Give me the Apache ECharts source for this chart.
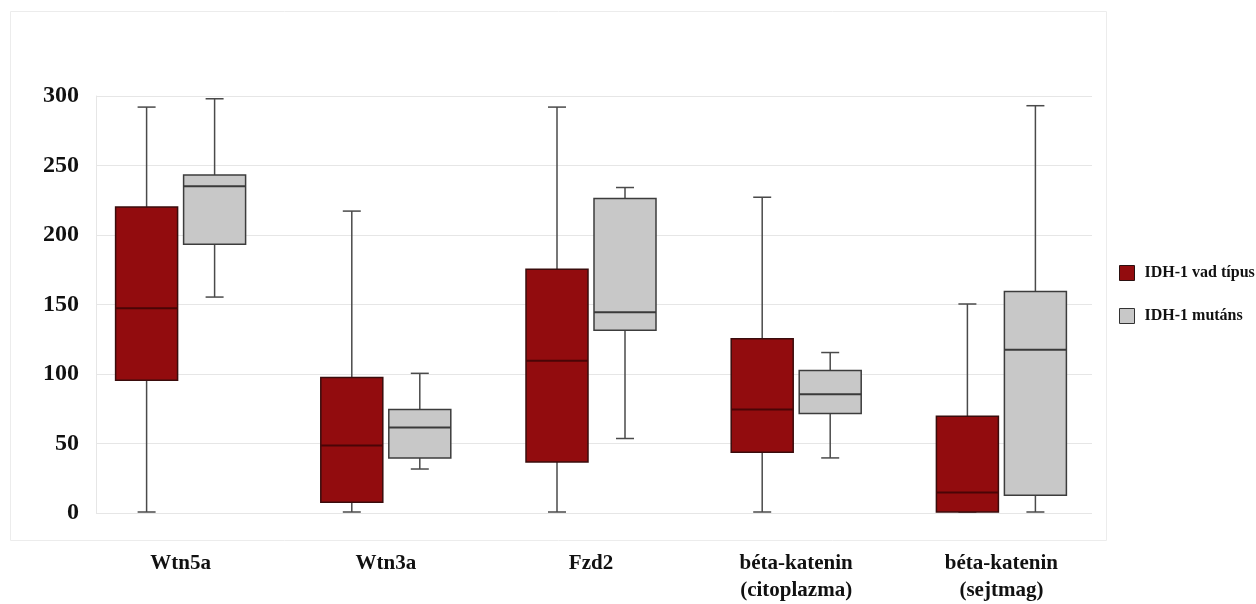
<!DOCTYPE html>
<html>
<head>
<meta charset="utf-8">
<script src="https://cdn.jsdelivr.net/npm/echarts@6/dist/echarts.min.js"></script>
<style>
  html, body { margin: 0; padding: 0; background: #ffffff; }
  #chart { width: 1256px; height: 604px; }
</style>
</head>
<body>
<div id="chart"></div>
<script>
// Marker groups along the x axis
const categories = ['Wtn5a', 'Wtn3a', 'Fzd2', 'béta-katenin\n(citoplazma)', 'béta-katenin\n(sejtmag)'];

// Box statistics per group: [min, Q1, median, Q3, max]
const wildType = [
  [0, 95, 147, 220, 292],
  [0, 7, 48, 97, 217],
  [0, 36, 109, 175, 292],
  [0, 43, 74, 125, 227],
  [0, 0, 14, 69, 150]
];
const mutant = [
  [155, 193, 235, 243, 298],
  [31, 39, 61, 74, 100],
  [53, 131, 144, 226, 234],
  [39, 71, 85, 102, 115],
  [0, 12, 117, 159, 293]
];

const seriesNames = ['IDH-1 vad típus', 'IDH-1 mutáns'];
const yTicks = { min: 0, max: 300, interval: 50 };

const FONT = '"Liberation Serif", "Times New Roman", serif';
const BOX_W = 62;
const CAP_HALF = 9;

function toRows(stats) {
  return stats.map((s, i) => [i].concat(s));
}

// Draws one box: whiskers with short caps, the IQR box and the median line
function boxRenderer(offset, fill, stroke, medianColor) {
  return function (params, api) {
    const idx = api.value(0);
    const cx = api.coord([idx, 0])[0] + offset;
    const y = (k) => api.coord([idx, api.value(k)])[1];
    const yMin = y(1), yQ1 = y(2), yMed = y(3), yQ3 = y(4), yMax = y(5);
    const half = BOX_W / 2;
    const whisker = { stroke: '#4a4a4a', lineWidth: 1.5 };
    return {
      type: 'group',
      children: [
        { type: 'line', shape: { x1: cx, y1: yQ3, x2: cx, y2: yMax }, style: whisker },
        { type: 'line', shape: { x1: cx - CAP_HALF, y1: yMax, x2: cx + CAP_HALF, y2: yMax }, style: whisker },
        { type: 'line', shape: { x1: cx, y1: yQ1, x2: cx, y2: yMin }, style: whisker },
        { type: 'line', shape: { x1: cx - CAP_HALF, y1: yMin, x2: cx + CAP_HALF, y2: yMin }, style: whisker },
        {
          type: 'rect',
          shape: { x: cx - half, y: yQ3, width: BOX_W, height: yQ1 - yQ3 },
          style: { fill: fill, stroke: stroke, lineWidth: 1.5 }
        },
        {
          type: 'line',
          shape: { x1: cx - half, y1: yMed, x2: cx + half, y2: yMed },
          style: { stroke: medianColor, lineWidth: 2 }
        }
      ]
    };
  };
}

const RED = '#920c0e';
const GREY = '#c8c8c8';

const chart = echarts.init(document.getElementById('chart'), null, { renderer: 'canvas' });

chart.setOption({
  animation: false,
  backgroundColor: '#ffffff',
  graphic: [{
    type: 'rect',
    z: -10,
    shape: { x: 10.5, y: 11.5, width: 1096, height: 529 },
    style: { fill: 'none', stroke: '#ececec', lineWidth: 1 }
  }],
  legend: {
    orient: 'vertical',
    left: 1119,
    top: 265,
    padding: 0,
    itemWidth: 15,
    itemHeight: 15,
    itemGap: 27,
    icon: 'rect',
    data: [
      { name: seriesNames[0], itemStyle: { color: RED, borderColor: '#2a1010', borderWidth: 1 } },
      { name: seriesNames[1], itemStyle: { color: GREY, borderColor: '#333333', borderWidth: 1 } }
    ],
    textStyle: { fontFamily: FONT, fontWeight: 'bold', fontSize: 16, color: '#111', padding: [0, 0, 0, 5] }
  },
  grid: [
    { left: 96, right: 164, top: 96, bottom: 91 },
    { left: 78, right: 152, top: 96, bottom: 91 }
  ],
  xAxis: [
    { gridIndex: 0, type: 'category', data: categories, show: false },
    {
      gridIndex: 1,
      type: 'category',
      data: categories,
      axisLine: { show: false },
      axisTick: { show: false },
      axisLabel: {
        margin: 38,
        fontFamily: FONT,
        fontWeight: 'bold',
        fontSize: 21,
        lineHeight: 27,
        color: '#111',
        verticalAlign: 'top'
      }
    }
  ],
  yAxis: [
    {
      gridIndex: 0,
      type: 'value',
      min: yTicks.min,
      max: yTicks.max,
      interval: yTicks.interval,
      axisLine: { show: true, lineStyle: { color: '#e6e6e6' } },
      axisTick: { show: false },
      splitLine: { lineStyle: { color: '#e6e6e6', width: 1 } },
      axisLabel: { margin: 17, fontFamily: FONT, fontWeight: 'bold', fontSize: 24, color: '#111' }
    },
    {
      gridIndex: 1,
      type: 'value',
      min: yTicks.min,
      max: yTicks.max,
      interval: yTicks.interval,
      show: false
    }
  ],
  series: [
    {
      name: seriesNames[0],
      type: 'custom',
      xAxisIndex: 1,
      yAxisIndex: 1,
      itemStyle: { color: RED },
      encode: { x: 0, y: [1, 2, 3, 4, 5] },
      renderItem: boxRenderer(-34, RED, '#3a0c0c', '#4a0506'),
      data: toRows(wildType)
    },
    {
      name: seriesNames[1],
      type: 'custom',
      xAxisIndex: 1,
      yAxisIndex: 1,
      itemStyle: { color: GREY },
      encode: { x: 0, y: [1, 2, 3, 4, 5] },
      renderItem: boxRenderer(34, GREY, '#3c3c3c', '#3a3a3a'),
      data: toRows(mutant)
    }
  ]
});
</script>
</body>
</html>
